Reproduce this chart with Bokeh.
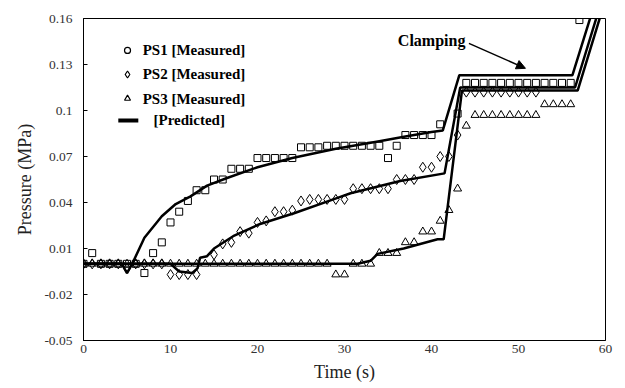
from bokeh.plotting import figure
from bokeh.models import Range1d, FixedTicker, Arrow, NormalHead, Label
from bokeh.embed import file_html
from bokeh.resources import INLINE
from bokeh.core.properties import value

# ---- measured data ----
ps1_t = [0, 1, 2, 3, 4, 5, 6, 7, 8, 9, 10, 11, 12, 13, 14, 15, 16, 17, 18, 19,
         20, 21, 22, 23, 24, 25, 26, 27, 28, 29, 30, 31, 32, 33, 34, 35, 36,
         37, 38, 39, 40, 41, 43, 44, 45, 46, 47, 48, 49, 50, 51, 52, 53, 54,
         55, 56, 57]
ps1_p = [0, 0.007, 0, 0, 0, 0, 0, -0.006, 0.007, 0.014, 0.027, 0.034, 0.041,
         0.048, 0.048, 0.055, 0.055, 0.062, 0.062, 0.062, 0.069, 0.069, 0.069,
         0.069, 0.069, 0.076, 0.076, 0.076, 0.077, 0.077, 0.077, 0.077, 0.077,
         0.077, 0.077, 0.069, 0.077, 0.084, 0.084, 0.084, 0.084, 0.091, 0.098,
         0.118, 0.118, 0.118, 0.118, 0.118, 0.118, 0.118, 0.118, 0.118, 0.118,
         0.118, 0.118, 0.118, 0.159]

ps2_t = [0, 1, 2, 3, 4, 5, 6, 7, 8, 9, 10, 11, 12, 13, 15, 16, 17, 18, 19, 20,
         21, 22, 23, 24, 25, 26, 27, 28, 29, 30, 31, 32, 33, 34, 35, 36, 37,
         38, 39, 40, 41, 42, 43, 44, 45, 46, 47, 48, 49, 50, 51, 52]
ps2_p = [0, 0, 0, 0, 0, -0.003, 0, 0, 0, 0, -0.007, -0.007, -0.007, -0.007,
         0.006, 0.013, 0.014, 0.021, 0.020, 0.027, 0.028, 0.034, 0.034, 0.035,
         0.041, 0.042, 0.042, 0.042, 0.042, 0.042, 0.049, 0.049, 0.049, 0.049,
         0.049, 0.055, 0.055, 0.055, 0.063, 0.063, 0.070, 0.070, 0.084, 0.112,
         0.112, 0.112, 0.112, 0.112, 0.112, 0.112, 0.112, 0.112]

ps3_t = list(range(0, 57))
ps3_p = [0] * 29 + [-0.007, -0.007, 0, 0, 0, 0.007, 0.007, 0.007, 0.014,
                    0.014, 0.021, 0.021, 0.028, 0.035, 0.049, 0.090, 0.097,
                    0.097, 0.097, 0.097, 0.097, 0.097, 0.097, 0.097, 0.104,
                    0.104, 0.104, 0.104]

# ---- predicted curves ----
pred1_t = [0, 4.4, 5.0, 5.6, 7.0, 9.0, 10.6, 12.3, 14.2, 16.5, 20.0, 24.0,
           29.0, 34.0, 37.0, 40.0, 41.3, 43.2, 56.2, 58.5]
pred1_p = [0, 0, -0.006, 0, 0.017, 0.031, 0.039, 0.044, 0.051, 0.056, 0.063,
           0.069, 0.075, 0.080, 0.083, 0.086, 0.087, 0.123, 0.123, 0.165]

pred2_t = [0, 10.0, 11.0, 12.5, 13.1, 13.4, 14.2, 15.0, 17.2, 20.3, 24.2,
           29.2, 30.7, 36.4, 41.5, 43.3, 56.5, 59.2]
pred2_p = [0, 0, -0.005, -0.006, -0.003, 0.004, 0.005, 0.010, 0.018, 0.026,
           0.033, 0.043, 0.046, 0.054, 0.059, 0.115, 0.115, 0.165]

pred3_t = [0, 31.5, 33.0, 33.8, 36.8, 40.7, 41.4, 43.5, 56.8, 59.6]
pred3_p = [0, 0, 0.002, 0.0065, 0.010, 0.016, 0.016, 0.113, 0.113, 0.165]

x_ticks = [0, 10, 20, 30, 40, 50, 60]
y_ticks = [-0.05, -0.02, 0.01, 0.04, 0.07, 0.1, 0.13, 0.16]
y_labels = ["-0.05", "-0.02", "0.01", "0.04", "0.07", "0.1", "0.13", "0.16"]

legend_labels = ["PS1 [Measured]", "PS2 [Measured]", "PS3 [Measured]", "[Predicted]"]

SERIF = "Liberation Serif"

p = figure(width=617, height=388, output_backend="svg", toolbar_location=None,
           x_range=Range1d(0, 60), y_range=Range1d(-0.05, 0.16),
           min_border_left=83, min_border_right=12, min_border_top=18,
           min_border_bottom=48)
p.grid.visible = False
p.outline_line_color = "black"
p.outline_line_width = 1

p.xaxis.ticker = FixedTicker(ticks=x_ticks)
p.yaxis.ticker = FixedTicker(ticks=y_ticks)
p.yaxis.major_label_overrides = {v: s for v, s in zip(y_ticks, y_labels)}
for ax in (p.xaxis, p.yaxis):
    ax.minor_tick_line_color = None
    ax.axis_line_color = "black"
    ax.major_tick_line_color = "black"
    ax.major_label_text_font = SERIF
    ax.major_label_text_font_size = "13.5px"
    ax.major_label_text_color = "#333333"
    ax.axis_label_text_font = SERIF
    ax.axis_label_text_font_size = "18px"
    ax.axis_label_text_font_style = "normal"
    ax.axis_label_text_color = "#222222"
p.yaxis.major_tick_in = 4
p.yaxis.major_tick_out = 0
p.xaxis.major_tick_in = 0
p.xaxis.major_tick_out = 0
p.yaxis.major_label_standoff = 11
p.xaxis.major_label_standoff = 4
p.yaxis.axis_label = "Pressure (MPa)"
p.xaxis.axis_label = "Time (s)"
p.yaxis.axis_label_standoff = 6
p.xaxis.axis_label_standoff = 6

# measured markers
p.scatter(ps1_t, ps1_p, marker="square", size=7, fill_color=None,
          line_color="black", line_width=1)
p.scatter(ps2_t, ps2_p, marker="diamond", size=10, fill_color=None,
          line_color="black", line_width=1)
p.scatter(ps3_t, ps3_p, marker="triangle", size=8, fill_color=None,
          line_color="black", line_width=1)

# predicted lines
for tt, pp in ((pred1_t, pred1_p), (pred2_t, pred2_p), (pred3_t, pred3_p)):
    p.line(tt, pp, line_color="black", line_width=2.5)

# custom legend
leg_y = [0.1392, 0.1235, 0.1078, 0.0935]
p.scatter([5.06], [leg_y[0]], marker="circle", size=6, fill_color=None,
          line_color="black", line_width=1.2)
p.scatter([5.06], [leg_y[1]], marker="diamond", size=7, fill_color=None,
          line_color="black", line_width=1.2)
p.scatter([5.06], [leg_y[2]], marker="triangle", size=6, fill_color=None,
          line_color="black", line_width=1.2)
p.line([4.0, 6.3], [leg_y[3], leg_y[3]], line_color="black", line_width=4)
p.text(x=[6.8, 6.8, 6.8, 8.05], y=leg_y, text=legend_labels,
       text_font=value(SERIF), text_font_style="bold",
       text_font_size="15px", text_baseline="middle", text_align="left",
       text_color="black")

# Clamping annotation
p.add_layout(Label(x=43.9, y=0.1455, text="Clamping", text_font=SERIF,
                   text_font_style="bold", text_font_size="16px",
                   text_align="right", text_baseline="middle",
                   text_color="black"))
p.add_layout(Arrow(end=NormalHead(size=9, fill_color="black", line_color="black"),
                   x_start=44.3, y_start=0.1438, x_end=50.8, y_end=0.1275,
                   line_width=1.5, line_color="black"))

open("out.html", "w").write(file_html(p, INLINE))
